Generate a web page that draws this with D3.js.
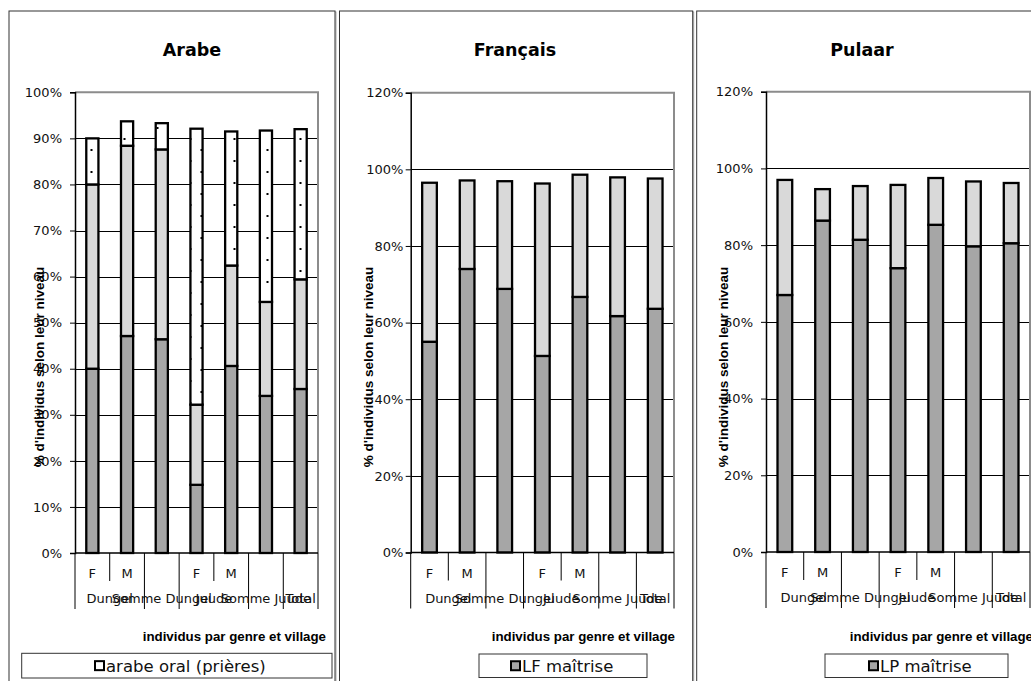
<!DOCTYPE html>
<html><head><meta charset="utf-8">
<script src="https://cdn.jsdelivr.net/npm/d3@7"></script>
<style>body{margin:0;background:#fff}svg{display:block}</style>
</head><body><svg id="c" width="1031" height="681"></svg>
<script>
// ---------- data ----------
const categories = ["F", "M", "", "F", "M", "", ""];
const groupLabels = ["Dungel", "Somme Dungel", "Juude", "Somme Juude", "Total"];
const groupStart = [0, 2, 3, 5, 6];
const groupEnd = [2, 3, 5, 6, 7];

const arabeSeries = ["arabe écrit maîtrise", "arabe écrit notions", "arabe oral (prières)"];
const arabeMaitrise = [40.0, 47.1, 46.4, 14.8, 40.6, 34.1, 35.6];
const arabeNotions = [40.0, 41.3, 41.2, 17.4, 21.8, 20.4, 23.8];
const arabeOral = [10.0, 5.3, 5.7, 59.9, 29.1, 37.2, 32.6];
const arabeTicks = [0, 10, 20, 30, 40, 50, 60, 70, 80, 90, 100];

const francaisSeries = ["LF maîtrise", "LF notions"];
const francaisMaitrise = [55.0, 74.0, 68.8, 51.3, 66.7, 61.7, 63.6];
const francaisNotions = [41.5, 23.1, 28.1, 45.0, 31.9, 36.2, 34.0];
const francaisTicks = [0, 20, 40, 60, 80, 100, 120];

const pulaarSeries = ["LP maîtrise", "LP notions"];
const pulaarMaitrise = [67.0, 86.4, 81.4, 74.0, 85.3, 79.7, 80.5];
const pulaarNotions = [30.0, 8.2, 14.0, 21.7, 12.2, 16.9, 15.7];
const pulaarTicks = [0, 20, 40, 60, 80, 100, 120];

const titles = ["Arabe", "Français", "Pulaar"];
const yTitle = "% d'individus selon leur niveau";
const xTitle = "individus par genre et village";
const legendLabels = ["arabe oral (prières)", "LF maîtrise", "LP maîtrise"];

// ---------- styles ----------
const DARK = "#a6a6a6", LIGHT = "#d9d9d9", WHITE = "#ffffff";

const svg = d3.select("#c");
const defs = svg.append("defs");
const pat = defs.append("pattern").attr("id", "dots")
  .attr("patternUnits", "userSpaceOnUse").attr("x", 0).attr("y", 0)
  .attr("width", 22).attr("height", 22);
pat.append("rect").attr("width", 22).attr("height", 22).attr("fill", "#fff");
pat.append("rect").attr("x", 2.5).attr("y", 17).attr("width", 2).attr("height", 2).attr("fill", "#000");
pat.append("rect").attr("x", 13.5).attr("y", 6).attr("width", 2).attr("height", 2).attr("fill", "#000");

const panels = [
  { title: titles[0], series: arabeSeries, values: [arabeMaitrise, arabeNotions, arabeOral],
    fills: [DARK, LIGHT, "url(#dots)"], ticks: arabeTicks, max: 100,
    box: [9, 11, 335, 720], plot: [75, 92.3, 318, 553], pad: 0.65,
    titleX: 192, yTitleX: 39, labelX: 62, tickLen: 5, xTitleEnd: 326,
    legend: [21.7, 653.3, 332, 678], markerX: 94, legendFill: WHITE, legendText: legendLabels[0] },
  { title: titles[1], series: francaisSeries, values: [francaisMaitrise, francaisNotions],
    fills: [DARK, LIGHT], ticks: francaisTicks, max: 120,
    box: [339.5, 11, 692.7, 720], plot: [410.7, 92.7, 674, 552.5], pad: 0.61,
    titleX: 515, yTitleX: 368, labelX: 403.3, tickLen: 5, xTitleEnd: 675,
    legend: [479, 654, 647, 677.5], markerX: 510, legendFill: DARK, legendText: legendLabels[1] },
  { title: titles[2], series: pulaarSeries, values: [pulaarMaitrise, pulaarNotions],
    fills: [DARK, LIGHT], ticks: pulaarTicks, max: 120,
    box: [696.7, 11, 1045, 720], plot: [766, 91.7, 1030, 552], pad: 0.61,
    titleX: 862, yTitleX: 723, labelX: 753, tickLen: 5, xTitleEnd: 1033,
    legend: [825, 654, 1008, 677.5], markerX: 868, legendFill: DARK, legendText: legendLabels[2] }
];

panels.forEach((p, pi) => {
  const g = svg.append("g");
  const [bx0, by0, bx1, by1] = p.box;
  // panel frame
  g.append("rect").attr("x", bx0 + 1).attr("y", by0 + 1).attr("width", bx1 - bx0).attr("height", by1 - by0)
    .attr("fill", "none").attr("stroke", "#aaa").attr("stroke-width", 1);
  g.append("rect").attr("x", bx0).attr("y", by0).attr("width", bx1 - bx0).attr("height", by1 - by0)
    .attr("fill", "#fff").attr("stroke", "#333").attr("stroke-width", 1);

  const [px0, py0, px1, py1] = p.plot;
  const x = d3.scaleBand().domain(d3.range(categories.length)).range([px0, px1])
    .paddingInner(p.pad).paddingOuter(p.pad / 2);
  const step = x.step();
  const y = d3.scaleLinear().domain([0, p.max]).range([py1, py0]);

  // gridlines
  g.append("g").selectAll("line").data(p.ticks.filter(t => t > 0 && t < p.max)).join("line")
    .attr("x1", px0).attr("x2", px1).attr("y1", d => Math.round(y(d)) + 0.5).attr("y2", d => Math.round(y(d)) + 0.5)
    .attr("stroke", "#000").attr("stroke-width", 1);

  // plot border (top, right)
  g.append("path").attr("d", `M${px0},${py0}H${px1}V${py1}`).attr("fill", "none")
    .attr("stroke", "#8c8c8c").attr("stroke-width", 2);

  // stacked bars
  const rows = categories.map((c, i) => {
    const o = { i };
    p.series.forEach((s, si) => o[s] = p.values[si][i]);
    return o;
  });
  const stack = d3.stack().keys(p.series)(rows);
  stack.forEach((layer, li) => {
    g.append("g").selectAll("rect").data(layer).join("rect")
      .attr("x", d => x(d.data.i)).attr("width", x.bandwidth())
      .attr("y", d => y(d[1])).attr("height", d => y(d[0]) - y(d[1]))
      .attr("fill", p.fills[li]).attr("stroke", "#000").attr("stroke-width", 2.3);
  });

  // y axis
  const yAxis = d3.axisLeft(y).tickValues(p.ticks).tickFormat(d => d + "%").tickSize(p.tickLen).tickPadding(px0 - p.tickLen - p.labelX);
  const ya = g.append("g").attr("transform", `translate(${px0},0)`).call(yAxis);
  ya.select(".domain").attr("stroke", "#000").attr("stroke-width", 1.5);
  ya.selectAll(".tick line").attr("stroke", "#000");
  ya.selectAll("text").attr("font-family", "DejaVu Sans").attr("font-size", 13).attr("fill", "#111");

  // x axis baseline
  g.append("line").attr("x1", px0).attr("x2", px1).attr("y1", py1).attr("y2", py1)
    .attr("stroke", "#000").attr("stroke-width", 1.5);

  // category divider lines
  const bounds = d3.range(categories.length + 1);
  const longB = new Set([0, ...groupEnd]);
  g.append("g").selectAll("line").data(bounds).join("line")
    .attr("x1", b => px0 + b * step).attr("x2", b => px0 + b * step)
    .attr("y1", py1).attr("y2", b => py1 + (longB.has(b) ? 56 : 28))
    .attr("stroke", "#000").attr("stroke-width", 1);

  // first-level labels
  g.append("g").selectAll("text").data(categories).join("text")
    .attr("x", (d, i) => x(i) + x.bandwidth() / 2).attr("y", py1 + 25)
    .attr("text-anchor", "middle").attr("font-family", "DejaVu Sans").attr("font-size", 13).attr("fill", "#111")
    .text(d => d);
  // second-level labels
  g.append("g").selectAll("text").data(groupLabels).join("text")
    .attr("x", (d, i) => px0 + (groupStart[i] + groupEnd[i]) / 2 * step).attr("y", py1 + 50)
    .attr("text-anchor", "middle").attr("font-family", "DejaVu Sans").attr("font-size", 13).attr("fill", "#111")
    .text(d => d);

  // title
  g.append("text").attr("x", p.titleX).attr("y", 56).attr("text-anchor", "middle")
    .attr("font-family", "DejaVu Sans").attr("font-weight", "bold").attr("font-size", 17.5).attr("fill", "#000")
    .text(p.title);

  // y title
  g.append("text").attr("transform", `translate(${p.yTitleX},367) rotate(-90)`)
    .attr("text-anchor", "middle").attr("dy", "0.35em")
    .attr("font-family", "Liberation Sans").attr("font-weight", "bold").attr("font-size", 13.5).attr("fill", "#000")
    .text(yTitle);

  // x title
  g.append("text").attr("x", p.xTitleEnd).attr("y", 641).attr("text-anchor", "end")
    .attr("font-family", "Liberation Sans").attr("font-weight", "bold").attr("font-size", 13.3).attr("fill", "#000")
    .text(xTitle);

  // legend
  const [lx0, ly0, lx1, ly1] = p.legend;
  g.append("rect").attr("x", lx0).attr("y", ly0).attr("width", lx1 - lx0).attr("height", ly1 - ly0)
    .attr("fill", "#fff").attr("stroke", "#333").attr("stroke-width", 1);
  const my = (ly0 + ly1) / 2;
  g.append("rect").attr("x", p.markerX + 1).attr("y", my - 4.5).attr("width", 9).attr("height", 9)
    .attr("fill", p.legendFill).attr("stroke", "#000").attr("stroke-width", 2);
  g.append("text").attr("x", p.markerX + 12).attr("y", my + 6)
    .attr("font-family", "DejaVu Sans").attr("font-size", 16.5).attr("fill", "#111")
    .text(p.legendText);
});
</script></body></html>
